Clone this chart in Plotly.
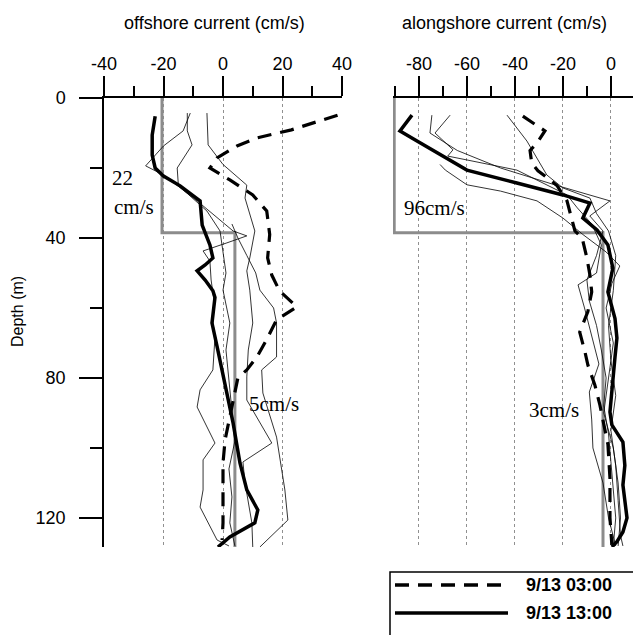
import plotly.graph_objects as go

# ---------------- data ----------------
# Offshore current (cm/s) vs depth (m)
off_0300_depth = [4.9, 9.1, 11.4, 13.7, 17.1, 20, 23.4, 27.7, 32.3, 39, 45.7, 50.6, 55.1, 59.7,
                  63.4, 69, 74, 77.7, 80, 88, 97.7, 104.3, 112, 121.4, 126.3]
off_0300_val = [38.5, 23, 11.4, 4.7, -2, -4.4, 2.3, 10, 14.7, 15.7, 15, 16.4, 19, 24.8,
                18, 14.7, 11.4, 8, 5, 3, 0.7, 0, 0, 0, -0.3]

off_1300_depth = [5.2, 10.6, 16.3, 20, 22.3, 25.1, 29.4, 36.3, 42, 45.7, 47.7, 49.4, 52, 55.1,
                  57, 64.3, 71, 84.3, 92.9, 104.3, 112, 117.7, 121.4, 125.4, 128.3]
off_1300_val = [-22.8, -23.8, -23.8, -22.8, -20, -14.4, -7.7, -7, -4.4, -3.4, -6, -8.7, -6, -3.4,
                -2.7, -3.7, -2, 1.3, 3.4, 5.7, 8, 11.7, 10.7, 2.3, -1.7]

off_a_depth = [4.3, 9.4, 13.7, 19.4, 22, 29.4, 38, 39.4, 41.4, 43.7, 46.6, 52, 58, 64, 68.3,
               77.7, 83.4, 88.3, 98.6, 103.4, 112, 116.9, 126.3, 128]
off_a_val = [-11, -13.4, -20, -26, -20, -8.7, 3.4, 8, 1.3, -6.7, -4.4, -4, -3, -3.4, -2.7,
             -3.4, -7.7, -8.7, -2.7, -6.7, -6.7, -7.7, -2, 2]
off_b_depth = [4.3, 9.4, 13.4, 20, 25, 32.3, 38, 44, 50, 54.9, 64.3, 72, 80, 90, 98, 106,
               114, 121.4, 128]
off_b_val = [-12, -12, -10.4, -15.4, -15, -5.4, -1, 0, 1, 0, 2.3, 1, 2, 3, 4, 2, 3, 2.3, 4]
off_c_depth = [4.3, 13.4, 19, 24.9, 28.6, 38, 45.7, 49.4, 54.9, 64.3, 72, 79.7, 86.3, 98.6,
               104, 110, 121.4, 128.3]
off_c_val = [-5.4, -5, 0, 8, 7.4, 10.7, 9, 8, 9, 10, 8.5, 8, 8, 16.4, 6.7, 7.4, 9.7, 10]
off_d_depth = [36, 40, 45, 50, 54.9, 60, 64.3, 74, 77.7, 84.3, 96.9, 112, 120.6, 128.3]
off_d_val = [3, 5, 8, 11, 12.4, 17, 18, 18, 13, 13.4, 18, 20.8, 21.8, 12.4]

off_step_depth = [0, 38.5, 38.5, 128.3]
off_step_val = [-20.5, -20.5, 4, 4]

# Alongshore current (cm/s) vs depth (m)
al_0300_depth = [5.2, 9.4, 12.9, 15, 18.6, 20.8, 23.4, 25, 29.4, 34.3, 38, 40, 45.7, 50.6,
                 55.4, 61, 66.9, 72.6, 76.3, 82, 87.7, 99, 108.6, 120, 127.7]
al_0300_val = [-36.7, -27.5, -30.8, -33.7, -33, -30.4, -25.4, -22.5, -18.3, -16.3, -15, -12, -10,
               -8.75, -8, -9.6, -13, -10.8, -9.6, -6.7, -4.6, -1.25, -0.4, -0.4, 0.4]

al_1300_depth = [4.9, 9.4, 12.3, 18, 20.6, 24.3, 27.7, 30, 34.3, 37.7, 42, 48.6, 55.4, 63,
                 68.6, 74, 82, 89.7, 93.4, 98.3, 105, 110.6, 120, 124, 126.8, 128.3]
al_1300_val = [-82.9, -87.9, -80.8, -67, -60, -39.2, -20, -8.75, -11.7, -5.8, -1.25, 0.8, -1.25, 1.7,
               2.5, 1.7, 0.8, -0.4, 0.4, 5, 5.8, 5, 6.7, 5, 2.5, 0.4]

al_a_depth = [4.9, 10, 15, 20, 25, 29.4, 33.7, 38, 45, 52, 58, 65, 72, 80, 88, 96, 104, 112, 120, 128]
al_a_val = [-74.6, -75.4, -64, -46, -22.5, -0.4, -8.8, -3.3, -6, -10, -9, -6, -4, -2, -3, -1,
            0, 1, 2, 1]
al_b_depth = [4.9, 10, 14.8, 16.6, 17.7, 20.6, 27.7, 31.4, 36, 42, 50, 53.4, 60, 68, 76, 84,
              92, 100, 110, 120, 128]
al_b_val = [-67, -73.3, -65.8, -68, -60, -39.2, -18.3, -14, -8, -4, -6, -13.7, -11, -8, -5, -9,
            -8, -7.5, -3.3, -1, 2]
al_c_depth = [19, 20.6, 24.8, 26.6, 29.4, 34.3, 39, 44, 48, 53, 60, 70, 80, 90, 100, 110, 120, 128]
al_c_val = [-71.2, -69, -60, -46, -30.8, -20, -11.7, -2, 3.7, 0.4, -2, 1, -1, -3, 1, 3, 4, 3]
al_d_depth = [4.9, 12.3, 22, 25.7, 28.6, 33, 38, 45, 55, 65, 75, 85, 95, 105, 115, 125, 128]
al_d_val = [-43.3, -35, -26.7, -20, -8.75, -6, -1, 2, 1, -1, 0, 2, 0, 2, 3, 4, 5]

al_step_depth = [0, 38.5, 38.5, 128.3]
al_step_val = [-90.3, -90.3, -3.3, -3.3]

# tick labels
off_ticks = [-40, -20, 0, 20, 40]
off_ticktext = ["-40", "-20", "0", "20", "40"]
al_ticks = [-80, -60, -40, -20, 0]
al_ticktext = ["-80", "-60", "-40", "-20", "0"]
depth_ticks = [0, 40, 80, 120]
depth_ticktext = ["0", "40", "80", "120"]

legend_labels = ["9/13 03:00", "9/13 13:00"]

# ---------------- figure ----------------
W, H = 633, 635
fig = go.Figure()

GRAY = "#8c8c8c"
DASH = "14px,9px"

def add_panel(xa, ya, step_v, step_d, thins, dashed, solid):
    fig.add_trace(go.Scatter(x=step_v, y=step_d, mode="lines", xaxis=xa, yaxis=ya,
                             line=dict(color=GRAY, width=3), hoverinfo="skip"))
    for v, d in thins:
        fig.add_trace(go.Scatter(x=v, y=d, mode="lines", xaxis=xa, yaxis=ya,
                                 line=dict(color="black", width=0.8), hoverinfo="skip"))
    fig.add_trace(go.Scatter(x=dashed[0], y=dashed[1], mode="lines", xaxis=xa, yaxis=ya,
                             line=dict(color="black", width=3.2, dash=DASH)))
    fig.add_trace(go.Scatter(x=solid[0], y=solid[1], mode="lines", xaxis=xa, yaxis=ya,
                             line=dict(color="black", width=3.5)))

add_panel("x", "y", off_step_val, off_step_depth,
          [(off_a_val, off_a_depth), (off_b_val, off_b_depth), (off_c_val, off_c_depth),
           (off_d_val, off_d_depth)],
          (off_0300_val, off_0300_depth), (off_1300_val, off_1300_depth))
add_panel("x2", "y2", al_step_val, al_step_depth,
          [(al_a_val, al_a_depth), (al_b_val, al_b_depth), (al_c_val, al_c_depth),
           (al_d_val, al_d_depth)],
          (al_0300_val, al_0300_depth), (al_1300_val, al_1300_depth))

ydom = [1 - 547 / H, 1 - 98 / H]
yrange = [128.3, 0]
tickfont = dict(family="Liberation Sans, Arial", size=18, color="black")

xcommon = dict(side="top", showline=True, linecolor="black", linewidth=1.5,
               ticks="outside", ticklen=20, tickwidth=1.5, tickcolor="black",
               tickmode="array", zeroline=False, showgrid=True, gridcolor="#909090",
               griddash="dot", gridwidth=1, tickfont=tickfont, ticklabelstandoff=-1,
               minor=dict(ticks="outside", ticklen=10, tickwidth=1.5, tickcolor="black",
                          dtick=10, tick0=0, showgrid=False),
               fixedrange=True)

fig.update_layout(
    width=W, height=H,
    margin=dict(l=0, r=0, t=0, b=0, autoexpand=False),
    paper_bgcolor="white", plot_bgcolor="white",
    showlegend=False,
    xaxis=dict(domain=[104 / W, 342 / W], range=[-40, 40], anchor="y",
               tickvals=off_ticks, ticktext=off_ticktext, **xcommon),
    xaxis2=dict(domain=[393 / W, 1.0], range=[-90.8, 9.2], anchor="y2",
                tickvals=al_ticks, ticktext=al_ticktext, **xcommon),
    yaxis=dict(domain=ydom, range=yrange, anchor="x", showline=True, linecolor="black",
               linewidth=1.5, ticks="outside", ticklen=23, tickwidth=1.5, tickcolor="black",
               tickmode="array", tickvals=depth_ticks, ticktext=depth_ticktext,
               showgrid=False, zeroline=False, tickfont=tickfont,
               ticklabelstandoff=10,
               minor=dict(ticks="outside", ticklen=12, tickwidth=1.5, tickcolor="black",
                          dtick=20, tick0=0, showgrid=False),
               fixedrange=True),
    yaxis2=dict(domain=ydom, range=yrange, anchor="x2", showline=False, showticklabels=False,
                ticks="", showgrid=False, zeroline=False, fixedrange=True),
)

serif = dict(family="Liberation Serif, Times New Roman", size=21, color="black")
ann = []
ann.append(dict(text="offshore current (cm/s)", x=215 / W, y=1 - 23 / H, xref="paper", yref="paper",
                showarrow=False, xanchor="center", yanchor="middle",
                font=dict(family="Liberation Sans, Arial", size=18, color="black")))
ann.append(dict(text="alongshore current (cm/s)", x=505 / W, y=1 - 23 / H, xref="paper", yref="paper",
                showarrow=False, xanchor="center", yanchor="middle",
                font=dict(family="Liberation Sans, Arial", size=18, color="black")))
ann.append(dict(text="Depth (m)", x=17 / W, y=1 - 312 / H, xref="paper", yref="paper",
                showarrow=False, textangle=-90, xanchor="center", yanchor="middle",
                font=dict(family="Liberation Sans, Arial", size=16, color="black")))
ann.append(dict(text="22", x=-38.0, y=22.9, xref="x", yref="y", showarrow=False,
                xanchor="left", yanchor="middle", font=serif))
ann.append(dict(text="cm/s", x=-37.2, y=31.1, xref="x", yref="y", showarrow=False,
                xanchor="left", yanchor="middle", font=serif))
ann.append(dict(text="5cm/s", x=8.0, y=87.4, xref="x", yref="y", showarrow=False,
                xanchor="left", yanchor="middle", font=serif))
ann.append(dict(text="96cm/s", x=-87.1, y=31.4, xref="x2", yref="y2", showarrow=False,
                xanchor="left", yanchor="middle", font=serif))
ann.append(dict(text="3cm/s", x=-35.0, y=89.1, xref="x2", yref="y2", showarrow=False,
                xanchor="left", yanchor="middle", font=serif))

# legend (drawn manually to match the long sample lines)
legfont = dict(family="Liberation Sans, Arial", size=18, color="black")
shapes = [
    dict(type="rect", xref="paper", yref="paper", x0=390 / W, x1=1.02, y0=-0.02, y1=1 - 572 / H,
         line=dict(color="black", width=1.5), fillcolor="white", layer="above"),
    dict(type="line", xref="paper", yref="paper", x0=395 / W, x1=508 / W, y0=1 - 585 / H, y1=1 - 585 / H,
         line=dict(color="black", width=3.5, dash=DASH), layer="above"),
    dict(type="line", xref="paper", yref="paper", x0=395 / W, x1=508 / W, y0=1 - 613 / H, y1=1 - 613 / H,
         line=dict(color="black", width=3.5), layer="above"),
]
for lab, py in zip(legend_labels, [585, 613]):
    ann.append(dict(text="<b>%s</b>" % lab, x=524 / W, y=1 - py / H, xref="paper", yref="paper",
                    showarrow=False, xanchor="left", yanchor="middle", font=legfont))

fig.update_layout(annotations=ann, shapes=shapes)
fig.write_html("out.html")
